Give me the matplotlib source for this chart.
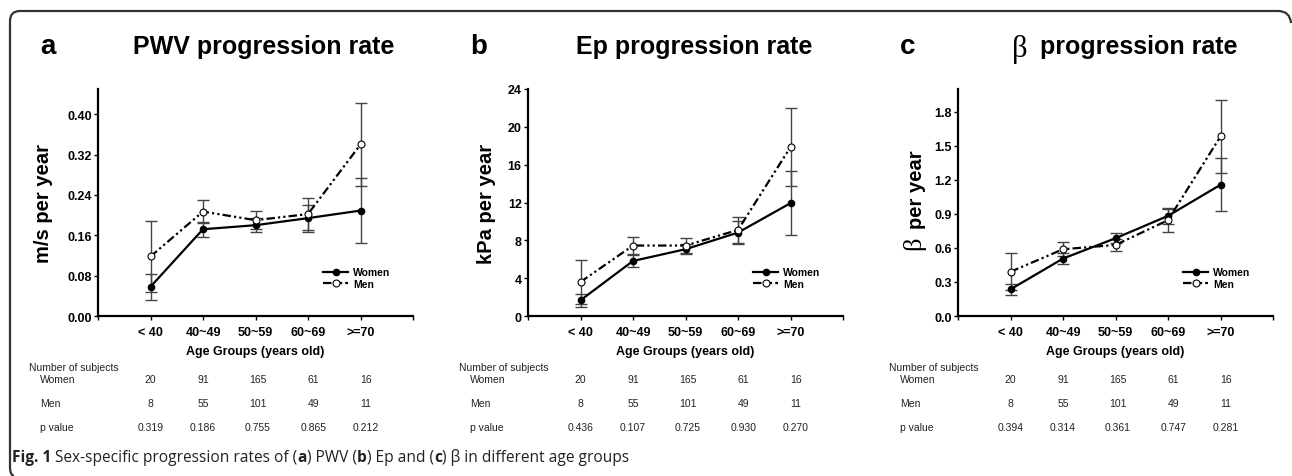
import numpy as np
import matplotlib
matplotlib.use('Agg')
import matplotlib.pyplot as plt
from matplotlib.path import Path
from matplotlib.patches import PathPatch
from matplotlib import transforms

plt.rcParams['font.family'] = ['Liberation Sans', 'DejaVu Sans']

# Age groups and subject counts
ages = ['< 40', '40~49', '50~59', '60~69', '>=70']
n_women = [20, 91, 165, 61, 16]
n_men = [8, 55, 101, 49, 11]

# PWV progression rate (m/s per year)
pwv_women = [0.058, 0.172, 0.180, 0.194, 0.209]
pwv_women_err = [0.026, 0.015, 0.014, 0.027, 0.064]
pwv_men = [0.118, 0.207, 0.190, 0.202, 0.340]
pwv_men_err = [0.070, 0.022, 0.018, 0.031, 0.082]
p_pwv = ['0.319', '0.186', '0.755', '0.865', '0.212']

# Ep progression rate (kPa per year)
ep_women = [1.66, 5.82, 7.06, 8.82, 11.93]
ep_women_err = [0.70, 0.65, 0.50, 1.25, 3.35]
ep_men = [3.60, 7.45, 7.45, 9.10, 17.86]
ep_men_err = [2.30, 0.90, 0.75, 1.40, 4.15]
p_ep = ['0.436', '0.107', '0.725', '0.930', '0.270']

# beta progression rate (per year)
beta_women = [0.235, 0.506, 0.685, 0.882, 1.156]
beta_women_err = [0.050, 0.045, 0.045, 0.070, 0.232]
beta_men = [0.390, 0.588, 0.626, 0.844, 1.582]
beta_men_err = [0.165, 0.060, 0.055, 0.100, 0.320]
p_beta = ['0.394', '0.314', '0.361', '0.747', '0.281']

W, H = 1292, 477
fig = plt.figure(figsize=(W / 100, H / 100), dpi=100)


def fx(x):
    return x / W


def fy(y):
    return 1 - y / H


# rounded frame (top and left edges only)
verts = [(1291, 24), (1290, 12), (1278, 12), (20, 12), (10, 12), (10, 22),
         (10, 468), (10, 476), (14, 477)]
codes = [Path.MOVETO, Path.CURVE3, Path.CURVE3, Path.LINETO, Path.CURVE3,
         Path.CURVE3, Path.LINETO, Path.CURVE3, Path.CURVE3]
frame = Path([(fx(a), fy(b)) for a, b in verts], codes)
fig.patches.append(PathPatch(frame, transform=fig.transFigure, fill=False,
                             lw=1.6, edgecolor='#333333'))

men_dash = (3.8, 1.4, 1, 1.4, 1, 1.4)
x = np.arange(1, len(ages) + 1)
table_x = [1, 2, 3.04, 4.1, 5.1]
tc = '#222222'


def draw_panel(left, letter, title, ylabel, ylab_x, women, women_err, men,
               men_err, ymax, yticks, yfmt, pvals):
    ax = fig.add_axes([fx(left), fy(317), 315 / W, 227 / H])
    ax.errorbar(x, women, yerr=women_err, fmt='none', ecolor='#444444',
                elinewidth=1, capsize=4, capthick=1, zorder=2)
    ax.errorbar(x, men, yerr=men_err, fmt='none', ecolor='#444444',
                elinewidth=1, capsize=4, capthick=1, zorder=2)
    ax.plot(x, women, color='black', lw=1.6, marker='o', ms=4.5,
            label='Women', zorder=3)
    ax.plot(x, men, color='black', lw=1.6, dashes=men_dash, marker='o',
            ms=5, mfc='white', mec='black', mew=0.8, label='Men', zorder=3)

    ax.set_xlim(0, 6)
    ax.set_ylim(0, ymax)
    ax.set_xticks(range(7))
    ax.set_xticklabels([''] + ages + [''])
    ax.set_yticks(yticks)
    ax.set_yticklabels([yfmt % v for v in yticks])
    for lab in ax.get_xticklabels() + ax.get_yticklabels():
        lab.set_fontweight('bold')
    ax.tick_params(axis='y', direction='out', length=3, width=1,
                   labelsize=9, pad=1.5)
    ax.tick_params(axis='x', direction='out', length=3, width=1,
                   labelsize=9, pad=4)
    for s in ['top', 'right']:
        ax.spines[s].set_visible(False)
    for s in ['left', 'bottom']:
        ax.spines[s].set_linewidth(1.6)

    ax.set_xlabel('Age Groups (years old)', fontsize=9, fontweight='bold')
    ax.xaxis.set_label_coords(0.5, -0.128)
    if ylabel:
        ax.set_ylabel(ylabel, fontsize=14.5, fontweight='bold')
        ax.yaxis.set_label_coords(ylab_x, 0.5)

    ax.legend(loc='upper left', bbox_to_anchor=(0.715, 0.215), frameon=False,
              prop={'size': 7.5, 'weight': 'bold'}, handlelength=2.4,
              handletextpad=0.5, labelspacing=0.15, borderpad=0,
              borderaxespad=0)

    if title:
        fig.text(fx(left + 166), fy(47), title, ha='center', va='center',
                 fontsize=18, fontweight='bold')
    fig.text(fx(left - 58), fy(47), letter, ha='left', va='center',
             fontsize=20, fontweight='bold')

    # subject counts and p values under the axis
    tr = transforms.blended_transform_factory(ax.transData, fig.transFigure)
    fig.text(fx(left - 69), fy(368), 'Number of subjects', fontsize=7.5,
             ha='left', va='center', color=tc)
    rows = [('Women', n_women, 380), ('Men', n_men, 404),
            ('p value', pvals, 428)]
    for name, vals, yy in rows:
        fig.text(fx(left - 58), fy(yy), name, fontsize=7.5, ha='left',
                 va='center', color=tc)
        for xi, v in zip(table_x, vals):
            ax.text(xi, fy(yy), str(v), transform=tr, fontsize=7.5,
                    ha='center', va='center', color=tc)
    return ax


ax_a = draw_panel(98, 'a', 'PWV progression rate', 'm/s per year', -0.143,
                  pwv_women, pwv_women_err, pwv_men, pwv_men_err,
                  0.45, [0, 0.08, 0.16, 0.24, 0.32, 0.40], '%.2f', p_pwv)
draw_panel(528, 'b', 'Ep progression rate', 'kPa per year', -0.10,
           ep_women, ep_women_err, ep_men, ep_men_err,
           24, [0, 4, 8, 12, 16, 20, 24], '%d', p_ep)
draw_panel(958, 'c', None, None, None,
           beta_women, beta_women_err, beta_men, beta_men_err,
           2.0, [0, 0.3, 0.6, 0.9, 1.2, 1.5, 1.8], '%.1f', p_beta)

# panel c: serif beta in title and y label
fig.text(fx(1012), fy(49), '\u03b2', family='Liberation Serif', fontsize=22,
         ha='left', va='center')
fig.text(fx(1040), fy(47), 'progression rate', fontsize=18,
         fontweight='bold', ha='left', va='center')
fig.text(fx(916.5), fy(190), 'per year', fontsize=14.5, fontweight='bold',
         rotation=90, ha='center', va='center')
fig.text(fx(914), fy(243), '\u03b2', family='Liberation Serif', fontsize=19,
         rotation=90, ha='center', va='center')

# caption, pieces chained so bold and normal runs sit on one line
pieces = [(' Sex-specific progression rates of (', 'normal'),
          ('a', 'bold'), (') PWV (', 'normal'), ('b', 'bold'),
          (') Ep and (', 'normal'), ('c', 'bold'),
          (') \u03b2 in different age groups', 'normal')]
last = fig.text(fx(12), fy(466), 'Fig. 1', fontsize=11.2, fontweight='bold',
                family='Open Sans', color=tc, va='bottom')
for txt, wt in pieces:
    last = ax_a.annotate(txt, xy=(1, 0), xycoords=last, va='bottom',
                         ha='left', fontsize=11.2, fontweight=wt,
                         family='Open Sans', color=tc, annotation_clip=False)

fig.savefig('out.png', dpi=100)
